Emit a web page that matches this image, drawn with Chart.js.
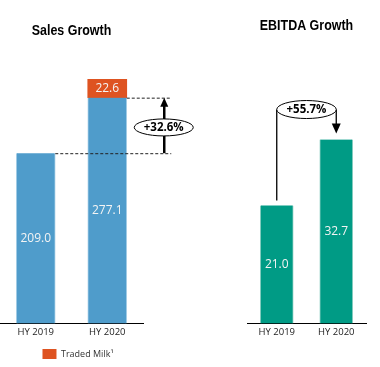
<!DOCTYPE html>
<html>
<head>
<meta charset="utf-8">
<script src="https://cdn.jsdelivr.net/npm/chart.js@4.4.1/dist/chart.umd.min.js"></script>
<style>
  html, body { margin: 0; padding: 0; background: #fff; overflow: hidden; }
  .box { position: absolute; top: 0; height: 372px; }
</style>
</head>
<body>
<div class="box" style="left:0;width:200px"><canvas id="sales-chart"></canvas></div>
<div class="box" style="left:200px;width:180px"><canvas id="ebitda-chart"></canvas></div>
<script>
const periods = ['HY 2019', 'HY 2020'];
const salesBase = [209.0, 277.1];
const tradedMilk = [null, 22.6];
const ebitda = [21.0, 32.7];

const BLUE = '#4F9CCB';
const ORANGE = '#DE5321';
const TEAL = '#009B85';
const TITLE_FONT = "'Liberation Sans', Arial, sans-serif";
const BODY_FONT = "'Open Sans', 'Noto Sans', sans-serif";

function growthText(a, b) {
    return '+' + ((b / a - 1) * 100).toFixed(1) + '%';
}

function arrowHead(ctx, x, tipY, dir, half, len) {
    // dir -1 points up, 1 points down
    ctx.beginPath();
    ctx.moveTo(x, tipY);
    ctx.lineTo(x - half, tipY - dir * len);
    ctx.lineTo(x + half, tipY - dir * len);
    ctx.closePath();
    ctx.fill();
}

function bubble(ctx, cx, cy, rx, ry, text) {
    ctx.beginPath();
    ctx.ellipse(cx, cy, rx, ry, 0, 0, Math.PI * 2);
    ctx.fillStyle = '#fff';
    ctx.fill();
    ctx.lineWidth = 1;
    ctx.strokeStyle = '#000';
    ctx.stroke();
    ctx.fillStyle = '#000';
    ctx.font = 'bold 11.5px ' + BODY_FONT;
    ctx.textAlign = 'center';
    ctx.textBaseline = 'middle';
    ctx.fillText(text, cx, cy + 0.5);
}

// narrow bold heading over each panel
const condensedTitle = {
    id: 'condensedTitle',
    afterDraw(chart, args, opts) {
        const ctx = chart.ctx;
        const area = chart.chartArea;
        ctx.save();
        ctx.font = 'bold 15px ' + TITLE_FONT;
        ctx.fillStyle = '#000';
        ctx.textAlign = 'center';
        ctx.textBaseline = 'middle';
        ctx.translate((area.left + area.right) / 2, opts.y);
        ctx.scale(0.83, 1);
        ctx.fillText(opts.text, 0, 0);
        ctx.restore();
    }
};

// white value labels in the middle of each bar segment
const barLabels = {
    id: 'barLabels',
    afterDatasetsDraw(chart) {
        const ctx = chart.ctx;
        ctx.save();
        ctx.fillStyle = '#F4F4F4';
        ctx.font = '12px ' + BODY_FONT;
        ctx.textAlign = 'center';
        ctx.textBaseline = 'middle';
        chart.data.datasets.forEach((ds, i) => {
            chart.getDatasetMeta(i).data.forEach((bar, j) => {
                const v = ds.data[j];
                if (v == null) return;
                ctx.fillText(v.toFixed(1), bar.x, (bar.y + bar.base) / 2);
            });
        });
        ctx.restore();
    }
};

// the legend sits a little right of centre in the original
const legendNudge = {
    id: 'legendNudge',
    afterLayout(chart) {
        if (chart.legend) {
            chart.legend.left += 6.5;
            chart.legend.right += 6.5;
        }
    }
};

const salesNotes = {
    id: 'salesNotes',
    afterDraw(chart) {
        const ctx = chart.ctx;
        const y = chart.scales.y;
        const bars = chart.getDatasetMeta(0).data;
        const yLow = y.getPixelForValue(salesBase[0]);
        const yHigh = y.getPixelForValue(salesBase[1]);
        const ax = bars[1].x + 57;

        ctx.save();
        ctx.strokeStyle = '#222';
        ctx.lineWidth = 1;
        ctx.setLineDash([3, 2]);
        ctx.beginPath();
        ctx.moveTo(bars[0].x + bars[0].width / 2, yLow + 0.5);
        ctx.lineTo(ax + 7, yLow + 0.5);
        ctx.moveTo(bars[1].x + bars[1].width / 2, yHigh + 0.5);
        ctx.lineTo(ax + 6, yHigh + 0.5);
        ctx.stroke();
        ctx.setLineDash([]);

        ctx.strokeStyle = '#000';
        ctx.fillStyle = '#000';
        ctx.lineWidth = 2.5;
        ctx.beginPath();
        ctx.moveTo(ax, yLow);
        ctx.lineTo(ax, yHigh + 8);
        ctx.stroke();
        arrowHead(ctx, ax, yHigh, -1, 4, 9);

        bubble(ctx, ax - 0.5, (yLow + yHigh) / 2 + 2, 29.5, 8.5, growthText(salesBase[0], salesBase[1]));
        ctx.restore();
    }
};

const ebitdaNotes = {
    id: 'ebitdaNotes',
    afterDraw(chart) {
        const ctx = chart.ctx;
        const bars = chart.getDatasetMeta(0).data;
        const cx = (bars[0].x + bars[1].x) / 2;
        const rx = (bars[1].x - bars[0].x) / 2;
        const cy = bars[1].y - 30;

        ctx.save();
        ctx.strokeStyle = '#000';
        ctx.fillStyle = '#000';
        ctx.lineWidth = 1.3;
        ctx.beginPath();
        ctx.moveTo(bars[0].x, cy);
        ctx.lineTo(bars[0].x, bars[0].y - 5);
        ctx.moveTo(bars[1].x, cy);
        ctx.lineTo(bars[1].x, bars[1].y - 14);
        ctx.stroke();
        arrowHead(ctx, bars[1].x, bars[1].y - 6, 1, 4.5, 10);

        bubble(ctx, cx, cy, rx, 9, growthText(ebitda[0], ebitda[1]));
        ctx.restore();
    }
};

function xAxis() {
    return {
        stacked: true,
        grid: { display: false, drawTicks: false },
        border: { display: true, color: '#000', width: 1 },
        ticks: {
            color: '#222',
            padding: 3,
            font: { family: BODY_FONT, size: 9.5 }
        }
    };
}

window.addEventListener('DOMContentLoaded', () => {
    new Chart(document.getElementById('sales-chart'), {
        type: 'bar',
        data: {
            labels: periods,
            datasets: [
                {
                    label: 'Sales',
                    data: salesBase,
                    backgroundColor: BLUE,
                    borderColor: '#A9D0E8',
                    borderWidth: { left: 1, right: 1, top: 0, bottom: 0 },
                    borderSkipped: false,
                    barThickness: 39
                },
                {
                    label: 'Traded Milk\u00B9',
                    data: tradedMilk,
                    backgroundColor: ORANGE,
                    borderWidth: 0,
                    barThickness: 39
                }
            ]
        },
        options: {
            responsive: true,
            maintainAspectRatio: false,
            animation: false,
            layout: { padding: { left: 0, right: 57, top: 79, bottom: 3 } },
            scales: {
                x: xAxis(),
                y: { stacked: true, display: false, min: 0, max: 300 }
            },
            plugins: {
                title: { display: false },
                condensedTitle: { text: 'Sales Growth', y: 30.5 },
                legend: {
                    display: true,
                    position: 'bottom',
                    labels: {
                        filter: item => item.datasetIndex === 1,
                        boxWidth: 14,
                        boxHeight: 10,
                        padding: 8,
                        color: '#333',
                        font: { family: BODY_FONT, size: 9 }
                    }
                },
                tooltip: { enabled: false }
            }
        },
        plugins: [barLabels, salesNotes, condensedTitle, legendNudge]
    });

    new Chart(document.getElementById('ebitda-chart'), {
        type: 'bar',
        data: {
            labels: periods,
            datasets: [
                {
                    label: 'EBITDA',
                    data: ebitda,
                    backgroundColor: TEAL,
                    borderColor: '#8FD0C4',
                    borderWidth: { left: 1, right: 1, top: 0, bottom: 0 },
                    borderSkipped: false,
                    barThickness: 33
                }
            ]
        },
        options: {
            responsive: true,
            maintainAspectRatio: false,
            animation: false,
            layout: { padding: { left: 47, right: 14, top: 79, bottom: 31 } },
            scales: {
                x: xAxis(),
                y: { display: false, min: 0, max: 43.45 }
            },
            plugins: {
                title: { display: false },
                condensedTitle: { text: 'EBITDA Growth', y: 26 },
                legend: { display: false },
                tooltip: { enabled: false }
            }
        },
        plugins: [barLabels, ebitdaNotes, condensedTitle]
    });
});
</script>
</body>
</html>
